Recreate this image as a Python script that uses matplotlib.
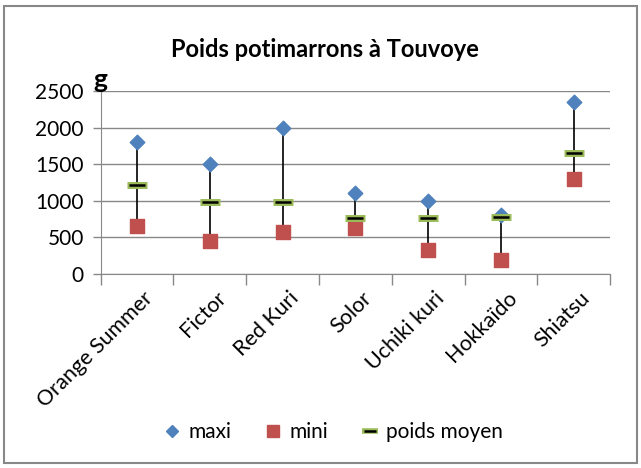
import numpy as np
import matplotlib.pyplot as plt
from matplotlib.patches import Rectangle
from matplotlib.lines import Line2D

plt.rcParams['font.family'] = ['Lato', 'DejaVu Sans']

varietes = ["Orange Summer", "Fictor", "Red Kuri", "Solor", "Uchiki kuri", "Hokkaïdo", "Shiatsu"]
maxi = [1800, 1500, 2000, 1100, 1000, 800, 2350]
mini = [650, 450, 580, 630, 330, 190, 1300]
moyen = [1220, 980, 980, 760, 760, 780, 1650]

bleu = "#4F81BD"
rouge = "#C0504D"
vert = "#9BBB59"

fig = plt.figure(figsize=(6.41, 4.68), dpi=100)
ax = fig.add_axes([0.157, 0.4145, 0.795, 0.391])

x = np.arange(len(varietes))

# lignes haut-bas
ax.vlines(x, mini, maxi, color="black", lw=1.2, zorder=2)
ax.scatter(x, maxi, marker="D", s=55, color=bleu, zorder=3)
ax.scatter(x, mini, marker="s", s=90, color=rouge, zorder=3)
ax.plot(x, moyen, ls="none", marker="_", ms=15, mew=5, color=vert, zorder=4)
ax.plot(x, moyen, ls="none", marker="_", ms=11, mew=1.8, color="black", zorder=5)

ax.set_ylim(0, 2500)
ax.set_xlim(-0.5, len(varietes) - 0.5)
ax.set_yticks(np.arange(0, 2501, 500))
ax.yaxis.grid(True, color="#888888", lw=1)
ax.set_axisbelow(True)

ax.set_xticks(np.arange(-0.5, len(varietes), 1))
ax.set_xticklabels([])
ax.tick_params(axis="x", length=8, color="#888888", width=1)
ax.tick_params(axis="y", length=6, color="#888888", width=1, labelsize=15, pad=6)
for i, v in enumerate(varietes):
    ax.text(i + 0.08, -190, v, rotation=45, ha="right", va="top",
            rotation_mode="anchor", fontsize=15.5, transform=ax.transData)

for s in ["top", "right"]:
    ax.spines[s].set_visible(False)
for s in ["left", "bottom"]:
    ax.spines[s].set_color("#888888")

fig.text(0.507, 0.895, "Poids potimarrons à Touvoye", ha="center", va="center", fontsize=17, fontweight="bold")
fig.text(0.145, 0.83, "g", ha="left", va="center", fontsize=19, fontweight="bold")

handles = [
    Line2D([], [], ls="none", marker="D", ms=6, color=bleu),
    Line2D([], [], ls="none", marker="s", ms=9, color=rouge),
    (Line2D([], [], ls="none", marker="_", ms=11, mew=4, color=vert),
     Line2D([], [], ls="none", marker="_", ms=8, mew=1.8, color="black")),
]
fig.legend(handles, ["maxi", "mini", "poids moyen"], loc="center", bbox_to_anchor=(0.52, 0.077),
           ncol=3, frameon=False, fontsize=15, handlelength=0.8, handletextpad=0.4, columnspacing=1.6)

fig.patches.append(Rectangle((0.007, 0.01), 0.986, 0.978, transform=fig.transFigure,
                             fill=False, edgecolor="#888888", lw=1.5))

fig.savefig("out.png", dpi=100)
